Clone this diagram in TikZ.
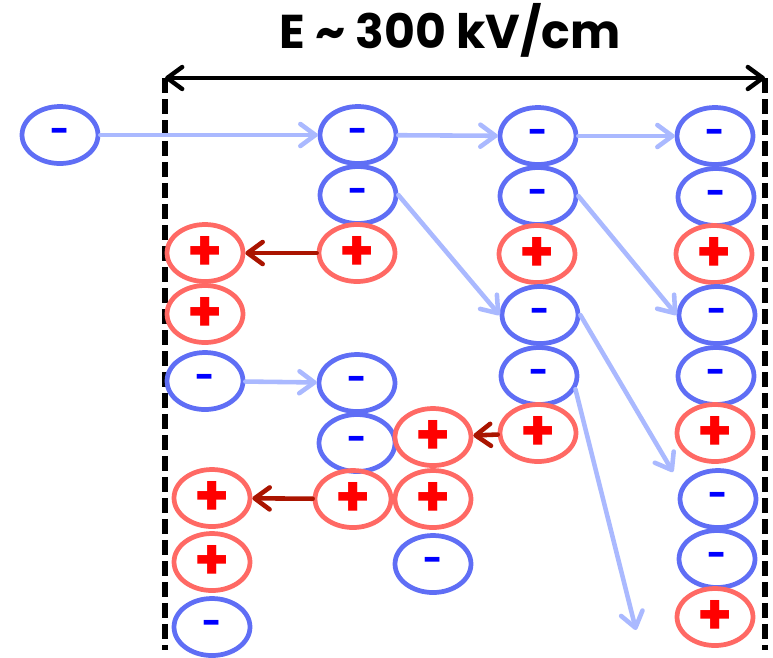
\documentclass[tikz,border=0pt]{standalone}
\usepackage{fontspec}
\setmainfont{Poppins}
\usetikzlibrary{arrows.meta, shapes.geometric}
\definecolor{ringblue}{RGB}{95, 110, 245}
\definecolor{ringred}{RGB}{255, 105, 100}
\definecolor{paleblue}{RGB}{170, 185, 255}
\definecolor{darkred}{RGB}{170, 20, 0}
\tikzstyle{electron} = [
    ellipse,
    draw=ringblue,
    line width=2.7pt,
    minimum width=1.52cm,
    minimum height=1.14cm,
    inner sep=0pt,
    text=blue,
    font=\bfseries\fontsize{19}{19}\selectfont
]
\tikzstyle{ion} = [
    electron,
    draw=ringred,
    text=red,
    font=\bfseries\fontsize{32}{32}\selectfont
]
\tikzstyle{drift} = [
    line width=2.6pt,
    line cap=round,
    -{Straight Barb[length=0.3cm, width=0.44cm, round]},
    color=paleblue
]
\tikzstyle{pull} = [
    drift,
    color=darkred
]
\tikzstyle{field} = [
    line width=2.5pt,
    {Straight Barb[length=0.3cm, width=0.44cm, round]}-{Straight Barb[length=0.3cm, width=0.44cm, round]},
    color=black
]
\tikzstyle{gap} = [
    line width=3.2pt,
    dash pattern=on 0.3cm off 0.12cm
]

\begin{document}
\begin{tikzpicture}[x=0.02cm, y=-0.02cm]
        \useasboundingbox (0,0) rectangle (773,657);

        % Field
        \node[font=\bfseries\fontsize{27}{27}\selectfont] (title) at (450,30) {E \textasciitilde{} 300 kV/cm};
        \coordinate (lefttop) at (165,78);
        \coordinate (righttop) at (765,78);
        \coordinate (leftbot) at (165,650);
        \coordinate (rightbot) at (765,650);
        \draw[gap] (lefttop) -- (leftbot);
        \draw[gap] (righttop) -- (rightbot);
        \draw[field] (lefttop) -- (righttop);

        % Seed electron
        \node[electron] (seed) at (60,135) {-};

        % First column
        \node[electron] (a1) at (358,135) {-};
        \node[electron] (a2) at (358,195) {-};
        \node[ion] (a3) at (357,253) {+};

        % Second column
        \node[electron] (b1) at (538,136) {-};
        \node[electron] (b2) at (538,196) {-};
        \node[ion] (b3) at (537,254) {+};
        \node[electron] (b4) at (540,315) {-};
        \node[electron] (b5) at (539,376) {-};
        \node[ion] (b6) at (538,433) {+};

        % Third column
        \node[electron] (c1) at (715,136) {-};
        \node[electron] (c2) at (716,197) {-};
        \node[ion] (c3) at (714,254) {+};
        \node[electron] (c4) at (717,315) {-};
        \node[electron] (c5) at (716,376) {-};
        \node[ion] (c6) at (715,433) {+};
        \node[electron] (c7) at (718,499) {-};
        \node[electron] (c8) at (717,559) {-};
        \node[ion] (c9) at (715,617) {+};

        % Cathode side
        \node[ion] (l1) at (205,253) {+};
        \node[ion] (l2) at (205,314) {+};
        \node[electron] (l3) at (205,381) {-};
        \node[ion] (k1) at (212,498) {+};
        \node[ion] (k2) at (212,562) {+};
        \node[electron] (k3) at (212,627) {-};

        % Middle group
        \node[electron] (m1) at (357,383) {-};
        \node[electron] (m2) at (357,443) {-};
        \node[ion] (m3) at (353,499) {+};
        \node[ion] (n1) at (433,437) {+};
        \node[ion] (n2) at (433,499) {+};
        \node[electron] (n3) at (433,564) {-};

        % Electron drift
        \coordinate (tail) at (636,630);
        \draw[drift] (seed) -- (a1);
        \draw[drift] (a1) -- (b1);
        \draw[drift] (b1) -- (c1);
        \draw[drift] (a2.east) -- (b4.west);
        \draw[drift] (b2.east) -- (c4.west);
        \draw[drift] (b4.east) -- ([xshift=-0.9cm, yshift=0.54cm]c7.center);
        \draw[drift] (b5.-20) -- (tail);
        \draw[drift] (l3) -- (m1);

        % Ion drift
        \draw[pull] (a3) -- (l1);
        \draw[pull] (b6) -- (n1);
        \draw[pull] (m3) -- (k1);
    \end{tikzpicture}
\end{document}
